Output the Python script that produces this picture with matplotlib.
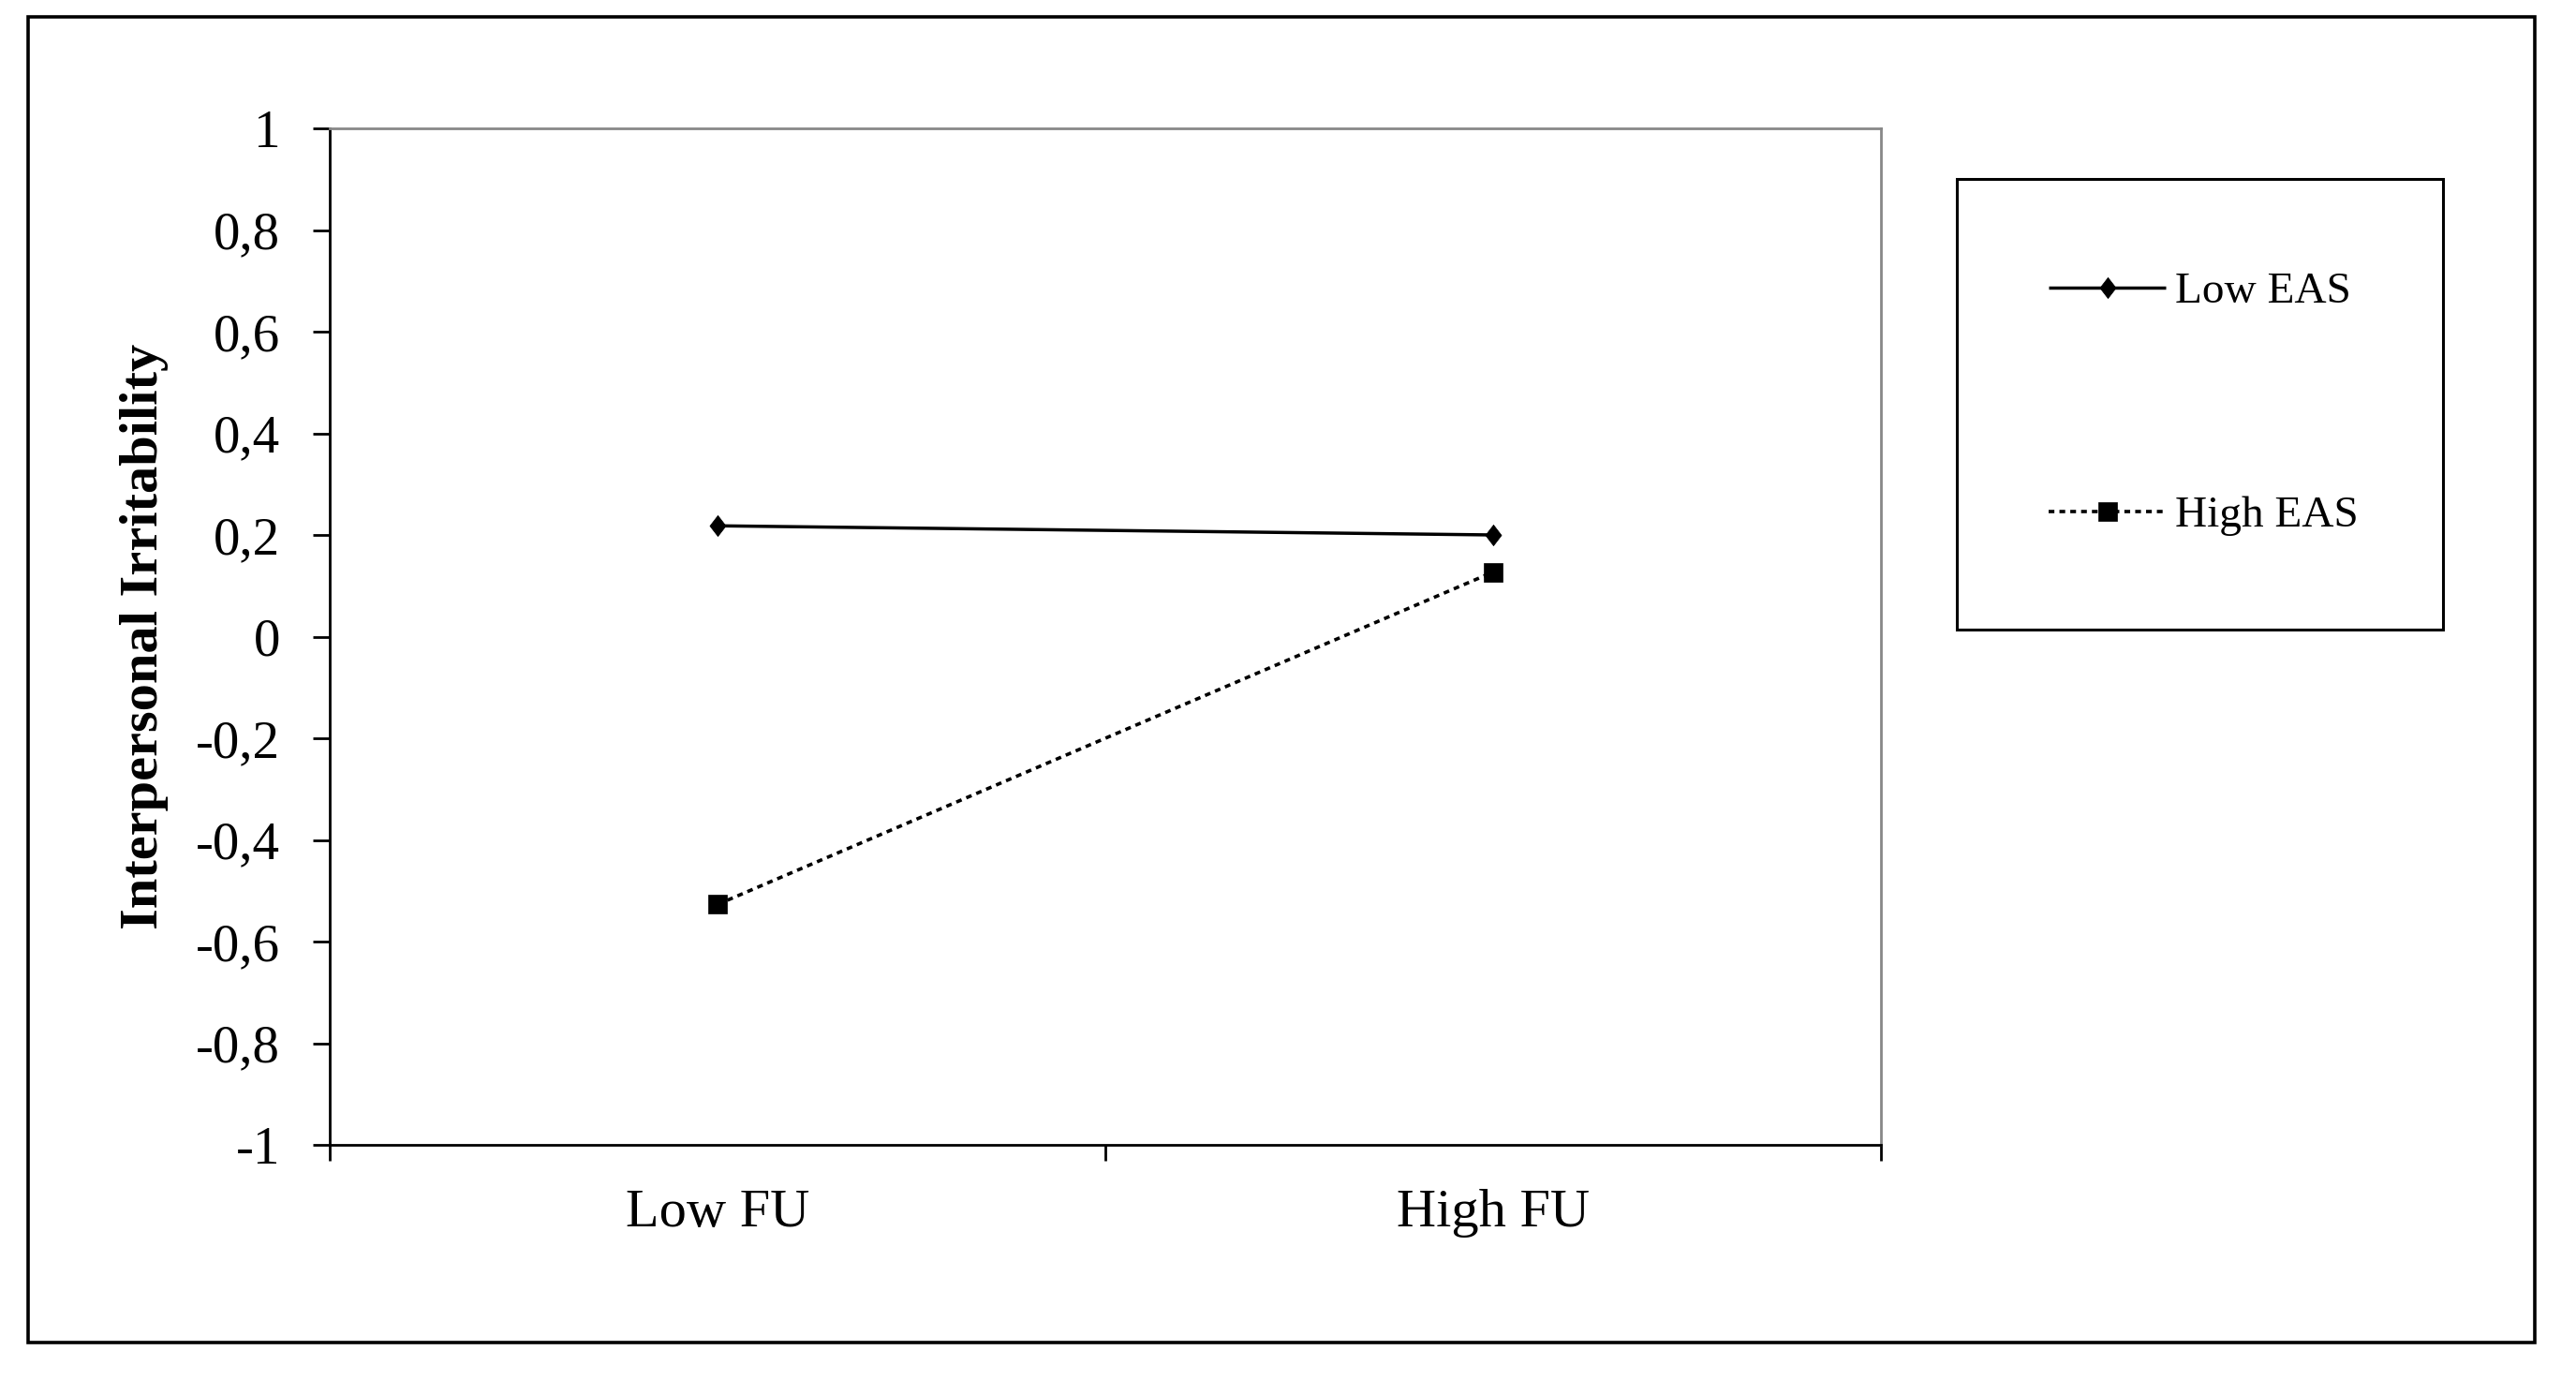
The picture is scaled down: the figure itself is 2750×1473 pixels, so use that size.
import numpy as np
import matplotlib
matplotlib.use("Agg")
import matplotlib.pyplot as plt
from matplotlib.patches import Rectangle

# ---- data ----
categories = ["Low FU", "High FU"]
series_names = ["Low EAS", "High EAS"]
low_eas = [0.218, 0.200]
high_eas = [-0.527, 0.127]
y_ticks = [-1.0, -0.8, -0.6, -0.4, -0.2, 0.0, 0.2, 0.4, 0.6, 0.8, 1.0]
y_label = "Interpersonal Irritability"

plt.rcParams['font.family'] = ['Liberation Serif', 'DejaVu Serif']

W, H, DPI = 2750, 1473, 100
fig = plt.figure(figsize=(W / DPI, H / DPI), dpi=DPI)
fig.patch.set_facecolor("white")

# axes placement (pixels -> figure fraction)
L, R, T, B = 352, 2008, 137, 1222
ax = fig.add_axes([L / W, 1 - B / H, (R - L) / W, (B - T) / H])

x = np.arange(len(categories)) + 0.5
diamond = [(0, 1), (0.77, 0), (0, -1), (-0.77, 0), (0, 1)]
ax.plot(x, low_eas, color="black", lw=2.5, marker=diamond, ms=16,
        markeredgewidth=0.5, label=series_names[0], solid_capstyle="butt")
ax.plot(x, high_eas, color="black", lw=2.6, linestyle=(0, (1.7, 1.5)),
        marker="s", ms=15, markeredgewidth=0.5, label=series_names[1])

ax.set_xlim(0, len(categories))
ax.set_ylim(-1, 1)

# y axis
ax.set_yticks(y_ticks)
ax.set_yticklabels([("%g" % v).replace(".", ",") if abs(v) > 1e-9 else "0" for v in y_ticks])
ax.tick_params(axis="y", direction="out", length=13, width=2, pad=25, labelsize=41)

# x axis: major ticks at boundaries, labels via minor ticks at centres
ax.set_xticks(np.arange(len(categories) + 1))
ax.set_xticklabels([])
ax.set_xticks(x, minor=True)
ax.set_xticklabels(categories, minor=True)
ax.tick_params(axis="x", which="major", direction="out", length=12, width=2)
ax.tick_params(axis="x", which="minor", length=0, pad=34, labelsize=42)

for s in ["left", "bottom"]:
    ax.spines[s].set_color("black")
    ax.spines[s].set_linewidth(2)
for s in ["top", "right"]:
    ax.spines[s].set_color("#888888")
    ax.spines[s].set_linewidth(2)

ax.set_ylabel(y_label, fontsize=42, fontweight="bold", va="center")
ax.yaxis.set_label_coords((154 - L) / (R - L), 0.5)

# legend box
lx0, ly0, lx1, ly1 = 2089, 191, 2608, 672
fig.patches.append(Rectangle((lx0 / W, 1 - ly1 / H), (lx1 - lx0) / W, (ly1 - ly0) / H,
                             transform=fig.transFigure, fill=False,
                             edgecolor="black", lw=2.2))
leg = ax.legend(loc="upper left", bbox_to_anchor=(2187 / W, 1 - 290 / H),
                bbox_transform=fig.transFigure, frameon=False, fontsize=34,
                handlelength=2.65, handletextpad=0.2, labelspacing=4.15,
                borderpad=0, borderaxespad=0)

# outer frame
ox0, oy0, ox1, oy1 = 30, 18, 2706, 1433
fig.patches.append(Rectangle((ox0 / W, 1 - oy1 / H), (ox1 - ox0) / W, (oy1 - oy0) / H,
                             transform=fig.transFigure, fill=False,
                             edgecolor="black", lw=2.6))

fig.savefig("out.png", dpi=DPI, facecolor="white")
